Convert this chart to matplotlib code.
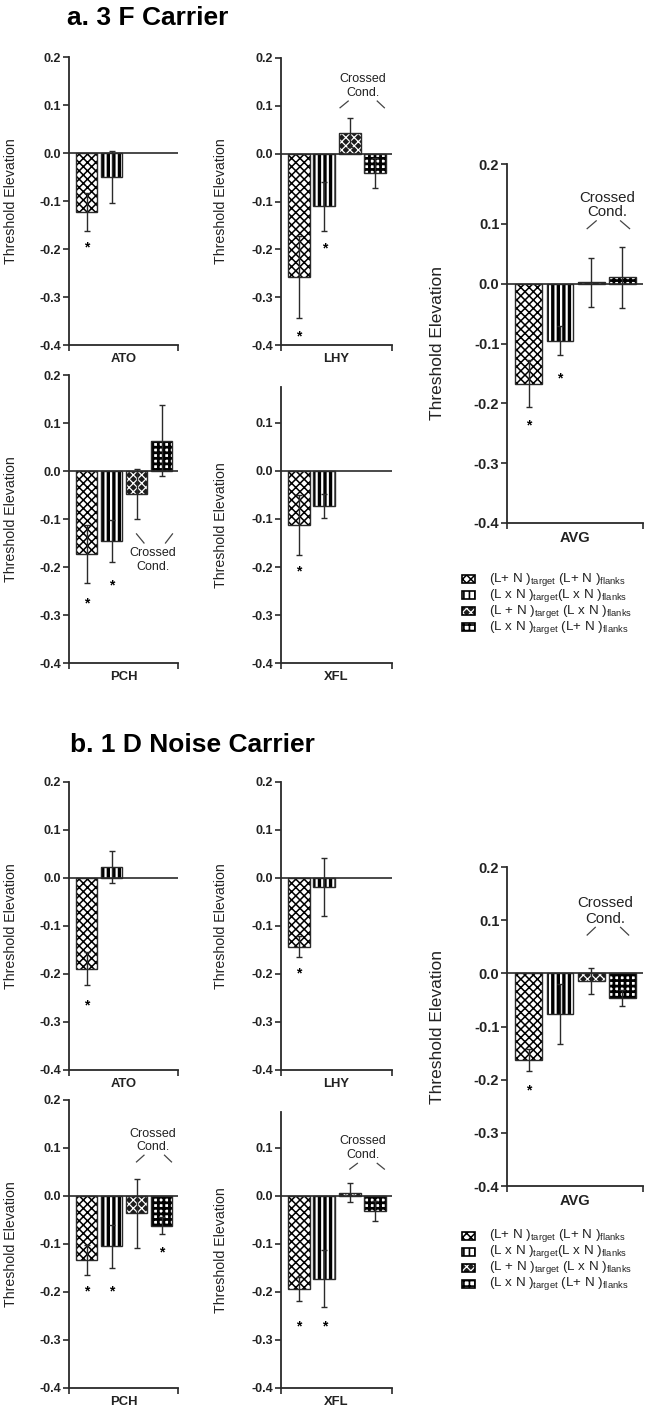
import numpy as np
import matplotlib
matplotlib.use("Agg")
import matplotlib.pyplot as plt
from matplotlib.patches import Rectangle

nan = np.nan

# ---------------- data ----------------
legend_labels = [
    r"(L+ N )$_{\rm target}$ (L+ N )$_{\rm flanks}$",
    r"(L x N )$_{\rm target}$(L x N )$_{\rm flanks}$",
    r"(L + N )$_{\rm target}$ (L x N )$_{\rm flanks}$",
    r"(L x N )$_{\rm target}$ (L+ N )$_{\rm flanks}$",
]
subjects = ["ATO", "LHY", "PCH", "XFL", "AVG"]

# a. 3 F Carrier
a_ATO_mean = [-0.123, -0.050, nan, nan]
a_ATO_err = [0.040, 0.055, nan, nan]
a_ATO_star = [-0.1875, nan, nan, nan]
a_LHY_mean = [-0.258, -0.110, 0.044, -0.040]
a_LHY_err = [0.085, 0.051, 0.031, 0.031]
a_LHY_star = [-0.373, -0.190, nan, nan]
a_PCH_mean = [-0.173, -0.146, -0.048, 0.063]
a_PCH_err = [0.060, 0.044, 0.052, 0.074]
a_PCH_star = [-0.267, -0.229, nan, nan]
a_XFL_mean = [-0.113, -0.073, nan, nan]
a_XFL_err = [0.063, 0.025, nan, nan]
a_XFL_star = [-0.200, nan, nan, nan]
a_AVG_mean = [-0.167, -0.095, 0.002, 0.011]
a_AVG_err = [0.039, 0.024, 0.041, 0.051]
a_AVG_star = [-0.231, -0.152, nan, nan]

# b. 1 D Noise Carrier
b_ATO_mean = [-0.189, 0.023, nan, nan]
b_ATO_err = [0.034, 0.034, nan, nan]
b_ATO_star = [-0.258, nan, nan, nan]
b_LHY_mean = [-0.143, -0.019, nan, nan]
b_LHY_err = [0.022, 0.060, nan, nan]
b_LHY_star = [-0.190, nan, nan, nan]
b_PCH_mean = [-0.133, -0.105, -0.036, -0.062]
b_PCH_err = [0.031, 0.044, 0.072, 0.018]
b_PCH_star = [-0.190, -0.190, nan, -0.109]
b_XFL_mean = [-0.194, -0.172, 0.007, -0.031]
b_XFL_err = [0.025, 0.060, 0.020, 0.021]
b_XFL_star = [-0.263, -0.263, nan, nan]
b_AVG_mean = [-0.163, -0.077, -0.014, -0.046]
b_AVG_err = [0.020, 0.056, 0.024, 0.015]
b_AVG_star = [-0.213, nan, nan, nan]

# ---------------- style ----------------
plt.rcParams['font.family'] = ['Liberation Sans', 'DejaVu Sans']
plt.rcParams['mathtext.fontset'] = 'custom'
plt.rcParams['mathtext.rm'] = 'Liberation Sans'
plt.rcParams['mathtext.it'] = 'Liberation Sans:italic'
plt.rcParams['mathtext.bf'] = 'Liberation Sans:bold'

W, H = 662, 1406
fig = plt.figure(figsize=(W / 100, H / 100), dpi=100)
INK = '#2a2a2a'

STYLES = [
    dict(face='white', hc='black', hatch='xxxx', hlw=1.1),
    dict(face='white', hc='black', hatch='|||', hlw=2.4),
    dict(face='#1c1c1c', hc='white', hatch='xxxx', hlw=0.9),
    dict(face='white', hc='black', hatch='+++', hlw=2.0),
]


def style_patch(p, k):
    st = STYLES[k]
    if hasattr(p, 'set_hatch_linewidth'):
        p.set_hatch_linewidth(st['hlw'])


def styled_bar(ax, x, h, w, k):
    st = STYLES[k]
    with plt.rc_context({'hatch.linewidth': st['hlw']}):
        bars = ax.bar(x, h, w, color=st['face'], edgecolor=st['hc'],
                      hatch=st['hatch'], linewidth=0, zorder=2)
        for p in bars:
            style_patch(p, k)
    ax.bar(x, h, w, fill=False, edgecolor=INK, linewidth=1.0, zorder=3)


def px_axes(l, t, r, b):
    return fig.add_axes([l / W, 1 - b / H, (r - l) / W, (b - t) / H])


def panel(box, name, means, errs, stars, ytop=0.2, big=False, crossed=None,
          ylab_x=-0.47):
    ax = px_axes(*box)
    xl = (-0.7, 3.66)
    ax.set_xlim(*xl)
    ax.set_ylim(-0.4, ytop)
    tick_fs = 10.5 if big else 9
    for k in range(4):
        if np.isnan(means[k]):
            continue
        styled_bar(ax, k, means[k], 0.86, k)
        ax.errorbar(k, means[k], yerr=errs[k], fmt='none', ecolor=INK,
                    elinewidth=1.0, capsize=2.5, capthick=1.0, zorder=4)
        if not np.isnan(stars[k]):
            fs = 10
            ax.annotate('*', (k, stars[k]), xytext=(0, -0.58 * fs),
                        textcoords='offset points', ha='center',
                        va='baseline', fontsize=fs, fontweight='bold',
                        color='black')
    ax.axhline(0, color=INK, lw=1.2, zorder=3.5)
    for s in ['top', 'right']:
        ax.spines[s].set_visible(False)
    for s in ['left', 'bottom']:
        ax.spines[s].set_color(INK)
        ax.spines[s].set_linewidth(1.3)
    yt = [v for v in [-0.4, -0.3, -0.2, -0.1, 0.0, 0.1, 0.2] if v <= ytop + 1e-9]
    ax.set_yticks(yt)
    ax.set_yticklabels(['%.1f' % v if abs(v) > 1e-9 else '0.0' for v in yt],
                       fontsize=tick_fs, fontweight='bold', color='#222222')
    ax.set_xticks(list(xl))
    ax.set_xticklabels(['', ''])
    ax.tick_params(axis='both', direction='out', length=4, width=1.2,
                   color=INK, pad=1.5)
    ax.set_xlabel(name, fontsize=10.5 if big else 9.4, fontweight='bold',
                  labelpad=0.5, color='#222222')
    ax.set_ylabel('Threshold Elevation', fontsize=12.5 if big else 10.2,
                  color='#222222')
    ax.yaxis.set_label_coords(ylab_x, 0.5)
    if crossed is not None:
        tx, yc, yd, l1, l2 = crossed
        cfs = 10.8 if big else 9
        ax.text(tx, yc, 'Crossed', ha='center', va='center', fontsize=cfs,
                color='#222222')
        ax.text(tx, yd, 'Cond.', ha='center', va='center', fontsize=cfs,
                color='#222222')
        for (x0, y0), (x1, y1) in (l1, l2):
            ax.plot([x0, x1], [y0, y1], color='#444444', lw=0.9,
                    clip_on=False)
    return ax


def legend_block(y_rows):
    for k, (yc, lab) in enumerate(zip(y_rows, legend_labels)):
        st = STYLES[k]
        lw_h = min(st['hlw'], 1.2)
        with plt.rc_context({'hatch.linewidth': lw_h}):
            r = Rectangle((462 / W, 1 - (yc + 4) / H), 13 / W, 8 / H,
                          transform=fig.transFigure, facecolor=st['face'],
                          edgecolor=st['hc'], hatch=st['hatch'], lw=0)
            if hasattr(r, 'set_hatch_linewidth'):
                r.set_hatch_linewidth(lw_h)
            fig.add_artist(r)
        fig.add_artist(Rectangle((462 / W, 1 - (yc + 4) / H), 13 / W, 8 / H,
                                 transform=fig.transFigure, fill=False,
                                 edgecolor='black', lw=1.2))
        fig.text(489 / W, 1 - yc / H, lab, fontsize=9.6, va='center',
                 ha='left', color='#222222')


# ---------------- titles ----------------
fig.text(67 / W, 1 - 18 / H, 'a. 3 F Carrier', fontsize=19,
         fontweight='bold', va='center', ha='left')
fig.text(70 / W, 1 - 745 / H, 'b. 1 D Noise Carrier', fontsize=19,
         fontweight='bold', va='center', ha='left')

# ---------------- section a ----------------
panel((69, 57, 178, 345), subjects[0], a_ATO_mean, a_ATO_err, a_ATO_star)
panel((281, 58, 392, 345), subjects[1], a_LHY_mean, a_LHY_err, a_LHY_star,
      ylab_x=-0.48,
      crossed=(2.53, 0.156, 0.127, ((1.62, 0.096), (1.94, 0.11)),
               ((3.08, 0.11), (3.36, 0.096))))
panel((69, 375, 178, 663), subjects[2], a_PCH_mean, a_PCH_err, a_PCH_star,
      crossed=(2.65, -0.171, -0.2, ((2.0, -0.131), (2.3, -0.15)),
               ((3.16, -0.15), (3.44, -0.131))))
panel((281, 387, 392, 663), subjects[3], a_XFL_mean, a_XFL_err, a_XFL_star,
      ytop=0.175, ylab_x=-0.48)
panel((507, 164, 643, 523), subjects[4], a_AVG_mean, a_AVG_err, a_AVG_star,
      big=True, ylab_x=-0.456,
      crossed=(2.5, 0.144, 0.119, ((1.87, 0.092), (2.16, 0.105)),
               ((2.94, 0.105), (3.23, 0.092))))
legend_block([579, 595, 611, 627])

# ---------------- section b ----------------
panel((69, 782, 178, 1070), subjects[0], b_ATO_mean, b_ATO_err, b_ATO_star)
panel((281, 782, 392, 1070), subjects[1], b_LHY_mean, b_LHY_err, b_LHY_star,
      ylab_x=-0.48)
panel((69, 1100, 178, 1388), subjects[2], b_PCH_mean, b_PCH_err, b_PCH_star,
      crossed=(2.65, 0.13, 0.103, ((2.0, 0.071), (2.3, 0.085)),
               ((3.12, 0.085), (3.4, 0.071))))
panel((281, 1112, 392, 1388), subjects[3], b_XFL_mean, b_XFL_err, b_XFL_star,
      ytop=0.175, ylab_x=-0.48,
      crossed=(2.53, 0.114, 0.086, ((2.0, 0.056), (2.3, 0.068)),
               ((3.08, 0.068), (3.36, 0.056))))
panel((507, 867, 643, 1186), subjects[4], b_AVG_mean, b_AVG_err, b_AVG_star,
      big=True, ylab_x=-0.456,
      crossed=(2.45, 0.132, 0.103, ((1.87, 0.072), (2.13, 0.0865)),
               ((2.94, 0.0865), (3.2, 0.072))))
legend_block([1236, 1252, 1268, 1284])

fig.savefig('out.png', dpi=100, facecolor='white')
